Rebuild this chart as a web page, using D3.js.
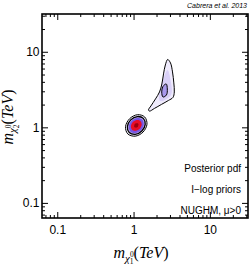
<!DOCTYPE html>
<html>
<head>
<meta charset="utf-8">
<script src="https://cdn.jsdelivr.net/npm/d3@7"></script>
<style>
  body { margin: 0; background: #fff; }
  text { font-family: "Liberation Sans", Arial, sans-serif; fill: #000; }
  .math { font-family: "Liberation Serif", "DejaVu Serif", serif; font-style: italic; }
</style>
</head>
<body>
<div id="chart"></div>
<script>
// axis ticks (TeV)
var majorTicks = [0.1, 1, 10];
var majorLabels = ["0.1", "1", "10"];
var minorTicks = [0.07, 0.08, 0.09, 0.2, 0.3, 0.4, 0.5, 0.6, 0.7, 0.8, 0.9,
  2, 3, 4, 5, 6, 7, 8, 9, 20, 30];

// contour levels, [m_chi1, m_chi2] in TeV
var lowOuter = [[1.40, 1.37], [1.50, 1.10], [1.33, 0.864], [1.05, 0.764],
  [0.84, 0.818], [0.785, 1.02], [0.887, 1.30], [1.13, 1.47]];
var lowInner = [[1.343, 1.313], [1.422, 1.093], [1.285, 0.894], [1.053, 0.807],
  [0.878, 0.855], [0.830, 1.027], [0.918, 1.256], [1.121, 1.390]];
var lowPurple = [[1.299, 1.269], [1.363, 1.088], [1.252, 0.918], [1.058, 0.843],
  [0.908, 0.884], [0.866, 1.032], [0.942, 1.223], [1.115, 1.332]];
var lowRed = [[1.235, 1.206], [1.278, 1.080], [1.202, 0.956], [1.066, 0.900],
  [0.956, 0.931], [0.923, 1.039], [0.981, 1.174], [1.107, 1.248]];
var lowCore = [[1.149, 1.121], [1.136, 1.013], [1.027, 1.001], [1.039, 1.108]];

var upOuter = [[2.80, 7.91], [3.05, 7.11], [3.24, 5.41], [3.37, 3.87], [3.42, 2.94],
  [3.29, 2.49], [2.87, 2.27], [2.32, 2.01], [1.88, 1.78], [1.62, 1.64], [1.57, 1.70],
  [1.69, 1.92], [1.94, 2.38], [2.19, 2.94], [2.35, 3.75], [2.47, 5.09], [2.61, 6.69]];
var upMid = [[2.79, 5.74], [3.09, 3.99], [3.14, 2.77], [2.66, 2.34], [2.22, 2.24],
  [2.16, 2.68], [2.32, 3.64], [2.54, 4.79]];
var upInner = [[2.68, 3.75], [2.77, 3.22], [2.70, 2.68], [2.43, 2.52], [2.34, 2.94],
  [2.43, 3.48]];

var legendLines = ["Posterior pdf", "I\u2212log priors", "NUGHM, \u03bc>0"];

var W = 249, H = 266;
var svg = d3.select("#chart").append("svg")
  .attr("width", W).attr("height", H);

var x = d3.scaleLog().domain([0.0631, 31.62]).range([42, 248]);
var y = d3.scaleLog().domain([0.0631, 31.62]).range([218, 14]);

var defs = svg.append("defs");
defs.append("filter").attr("id", "soft")
  .attr("x", "-50%").attr("y", "-50%").attr("width", "200%").attr("height", "200%")
  .append("feGaussianBlur").attr("stdDeviation", 0.6);
defs.append("clipPath").attr("id", "plot")
  .append("rect").attr("x", 42).attr("y", 14).attr("width", 206).attr("height", 204);

var line = d3.line()
  .x(function (d) { return x(d[0]); })
  .y(function (d) { return y(d[1]); })
  .curve(d3.curveCatmullRomClosed.alpha(0.5));

var plot = svg.append("g").attr("clip-path", "url(#plot)");

// shading
var shade = plot.append("g").attr("filter", "url(#soft)");
function fillShape(pts, col) {
  shade.append("path").attr("d", line(pts)).attr("fill", col);
}
fillShape(upOuter, "#efebfc");
fillShape(upMid, "#d9d0f7");
fillShape(upInner, "#a898ec");
fillShape(lowOuter, "#f3f0fe");
fillShape(lowInner, "#b8a8f0");
fillShape(lowPurple, "#7655e2");
fillShape(lowRed, "#e80a28");
fillShape(lowCore, "#9a000c");

// contour lines
function contour(pts, w) {
  plot.append("path").attr("d", line(pts))
    .attr("fill", "none").attr("stroke", "#000").attr("stroke-width", w);
}
contour(upOuter, 1);
contour(upInner, 1);
contour(lowOuter, 1);
contour(lowInner, 1.3);

// axes with inward ticks
function axis(gen, tx, ty, vals, size, labels) {
  var a = gen.tickValues(vals).tickSize(size).tickPadding(labels ? 7 : 3)
    .tickFormat(function (d, i) { return labels ? labels[i] : ""; });
  var g = svg.append("g").attr("transform", "translate(" + tx + "," + ty + ")").call(a);
  g.select(".domain").remove();
  g.selectAll("line").attr("stroke", "#000").attr("stroke-width", 1);
  g.selectAll("text").style("font-size", "12px").style("font-family", null);
  return g;
}
axis(d3.axisBottom(x), 0, 218, minorTicks, -3);
axis(d3.axisBottom(x), 0, 218, majorTicks, -6, majorLabels);
axis(d3.axisTop(x), 0, 14, minorTicks, -3);
axis(d3.axisTop(x), 0, 14, majorTicks, -6);
axis(d3.axisLeft(y), 42, 0, minorTicks, -3);
var yl = axis(d3.axisLeft(y), 42, 0, majorTicks, -6, majorLabels);
yl.selectAll("text").attr("x", -2.5);
axis(d3.axisRight(y), 248, 0, minorTicks, -3);
axis(d3.axisRight(y), 248, 0, majorTicks, -6);

svg.append("rect").attr("x", 42).attr("y", 14).attr("width", 206).attr("height", 204)
  .attr("fill", "none").attr("stroke", "#000").attr("stroke-width", 1.6);

// legend text
svg.selectAll(".leg").data(legendLines).enter().append("text")
  .attr("class", "leg")
  .attr("x", 241)
  .attr("y", function (d, i) { return 171.5 + i * 21; })
  .attr("text-anchor", "end")
  .style("font-size", "10px")
  .text(function (d) { return d; });

svg.append("text").attr("x", 247).attr("y", 7.5).attr("text-anchor", "end")
  .style("font-size", "7px").style("font-style", "italic")
  .text("Cabrera et al. 2013");

// axis titles
function mathLabel(g, sub) {
  var t = g.append("text").attr("class", "math").attr("text-anchor", "middle")
    .style("font-size", "16px");
  t.append("tspan").text("m");
  t.append("tspan").style("font-size", "11px").attr("dy", 3.5).text("\u03c7");
  t.append("tspan").style("font-size", "7.5px").style("font-style", "normal").attr("dy", -5).text("0");
  t.append("tspan").style("font-size", "7.5px").style("font-style", "normal").attr("dx", -3.8).attr("dy", 7.5).text(sub);
  t.append("tspan").style("font-style", "normal").attr("dy", -6).text("(");
  t.append("tspan").text("TeV");
  t.append("tspan").style("font-style", "normal").text(")");
  return t;
}
mathLabel(svg.append("g").attr("transform", "translate(141,258)"), "1");
mathLabel(svg.append("g").attr("transform", "translate(12.5,117) rotate(-90)"), "2");
</script>
</body>
</html>
